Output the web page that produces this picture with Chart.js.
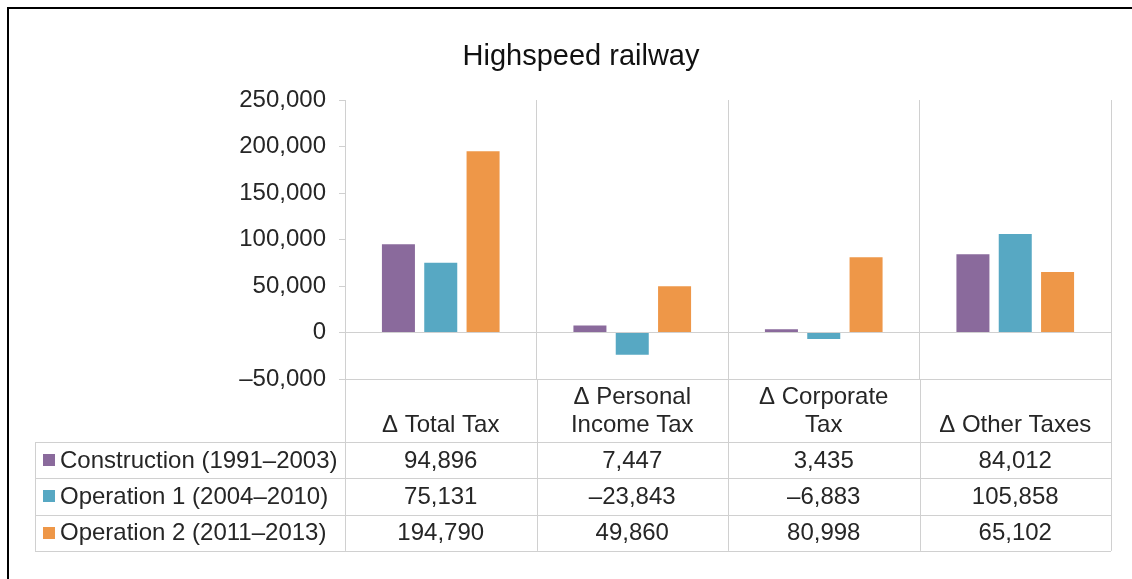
<!DOCTYPE html>
<html>
<head>
<meta charset="utf-8">
<script src="https://cdn.jsdelivr.net/npm/chart.js@4/dist/chart.umd.min.js"></script>
<style>
  body { margin: 0; background: #fff; }
  #wrap { width: 1132px; height: 579px; }
</style>
</head>
<body>
<div id="wrap"><canvas id="myChart" width="1132" height="579"></canvas></div>
<script>
// chart data
const chartTitle = 'Highspeed railway';
const categories = [['Δ Total Tax'], ['Δ Personal', 'Income Tax'], ['Δ Corporate', 'Tax'], ['Δ Other Taxes']];
const seriesNames = ['Construction (1991–2003)', 'Operation 1 (2004–2010)', 'Operation 2 (2011–2013)'];
const construction = [94896, 7447, 3435, 84012];
const operation1 = [75131, -23843, -6883, 105858];
const operation2 = [194790, 49860, 80998, 65102];
const yMin = -50000;
const yMax = 250000;
const yStep = 50000;

const colors = ['#8A6A9C', '#57A8C3', '#EE9748'];
const gridColor = '#d0d0d0';
const textColor = '#262626';
const FONT = "'Liberation Sans', Arial, sans-serif";

function fmt(v) {
    // en dash for negatives like the original
    return (v < 0 ? '–' : '') + Math.abs(v).toLocaleString('en-US');
}

const tablePlugin = {
    id: 'dataTable',
    beforeDraw(chart) {
        const ctx = chart.ctx;
        ctx.save();
        ctx.fillStyle = '#fff';
        ctx.fillRect(0, 0, chart.width, chart.height);
        ctx.fillStyle = '#000';
        ctx.fillRect(7, 7, chart.width - 7, 2);
        ctx.fillRect(7, 7, 2, chart.height - 7);
        ctx.restore();
    },
    afterDraw(chart) {
        const ctx = chart.ctx;
        const x = chart.scales.x;
        const area = chart.chartArea;
        const n = categories.length;
        const colW = x.width / n;
        const rowH = 36.3;
        const top = x.bottom - 1;
        const bottom = top + rowH * seriesNames.length;
        const left = 35;

        ctx.save();
        ctx.strokeStyle = gridColor;
        ctx.lineWidth = 1;
        ctx.beginPath();
        for (let i = 0; i <= n; i++) {
            const px = Math.round(x.left + i * colW) + 0.5;
            ctx.moveTo(px, area.bottom);
            ctx.lineTo(px, bottom);
        }
        ctx.moveTo(left + 0.5, top);
        ctx.lineTo(left + 0.5, bottom);
        for (let r = 0; r <= seriesNames.length; r++) {
            const py = Math.round(top + r * rowH) + 0.5;
            ctx.moveTo(left, py);
            ctx.lineTo(x.right, py);
        }
        ctx.stroke();

        ctx.font = '24px ' + FONT;
        ctx.fillStyle = textColor;
        ctx.textBaseline = 'middle';
        chart.data.datasets.forEach((ds, r) => {
            const cy = top + rowH * (r + 0.5);
            ctx.fillStyle = colors[r];
            ctx.fillRect(43, Math.round(cy - 6), 12, 12);
            ctx.fillStyle = textColor;
            ctx.textAlign = 'left';
            ctx.fillText(ds.label, 60, cy + 1);
            ctx.textAlign = 'center';
            ds.data.forEach((v, i) => {
                ctx.fillText(fmt(v), x.getPixelForValue(i), cy + 1);
            });
        });
        ctx.restore();
    }
};

const ctx = document.getElementById('myChart').getContext('2d');
const chart = new Chart(ctx, {
    type: 'bar',
    data: {
        labels: categories,
        datasets: [construction, operation1, operation2].map((d, i) => ({
            label: seriesNames[i],
            data: d,
            backgroundColor: colors[i],
            borderColor: colors[i],
            borderWidth: 0,
            categoryPercentage: 0.663,
            barPercentage: 0.78
        }))
    },
    options: {
        responsive: false,
        animation: false,
        devicePixelRatio: 1,
        layout: { padding: { left: 51, right: 21, top: 0, bottom: 136 } },
        plugins: {
            legend: { display: false },
            tooltip: { enabled: false },
            title: {
                display: true,
                text: chartTitle,
                color: '#111',
                font: { family: FONT, size: 29, weight: 'normal' },
                padding: { top: 40, bottom: 25.2 }
            }
        },
        scales: {
            x: {
                afterFit: (scale) => { scale.height = 64; },
                grid: { offset: true, color: gridColor, drawTicks: false },
                border: { display: true, color: gridColor },
                ticks: {
                    autoSkip: false,
                    maxRotation: 0,
                    padding: 4,
                    color: textColor,
                    font: { family: FONT, size: 24, lineHeight: 1.17 },
                    // push one-line labels down so they sit on the bottom line
                    callback: function (value, index) {
                        const lines = categories[index];
                        return lines.length < 2 ? [''].concat(lines) : lines;
                    }
                }
            },
            y: {
                min: yMin,
                max: yMax,
                afterFit: (scale) => { scale.width = 294; },
                grid: {
                    color: (c) => (c.tick && (c.tick.value === 0 || c.tick.value === yMin)) ? gridColor : 'rgba(0,0,0,0)',
                    tickColor: gridColor,
                    tickLength: 6
                },
                border: { display: true, color: gridColor },
                ticks: {
                    stepSize: yStep,
                    padding: 13,
                    color: textColor,
                    font: { family: FONT, size: 24 },
                    callback: (v) => fmt(v)
                }
            }
        }
    },
    plugins: [tablePlugin]
});
</script>
</body>
</html>
